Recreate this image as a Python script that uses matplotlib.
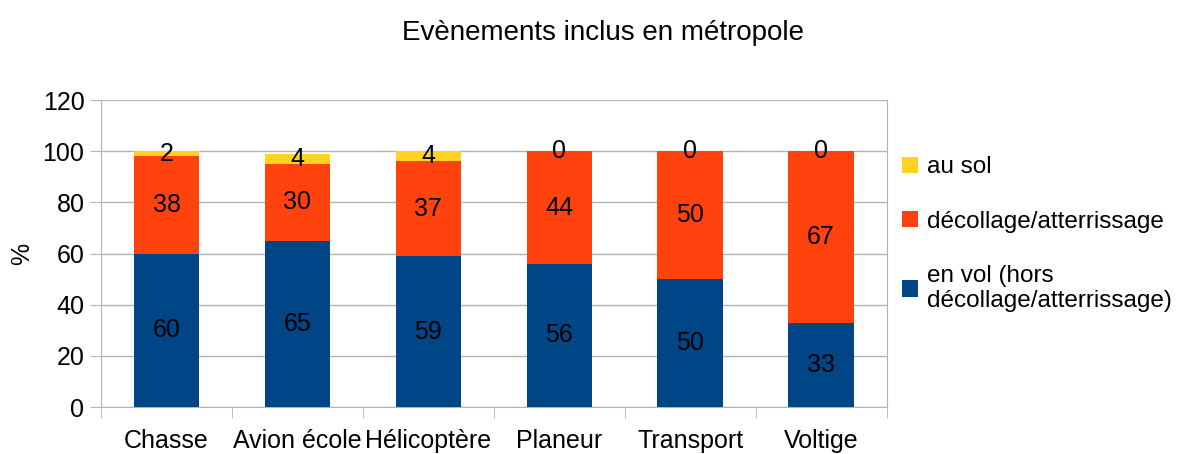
import numpy as np
import matplotlib
matplotlib.use('Agg')
import matplotlib.pyplot as plt

plt.rcParams['font.family'] = ['Liberation Sans', 'DejaVu Sans']

categories = ['Chasse', 'Avion école', 'Hélicoptère', 'Planeur', 'Transport', 'Voltige']
en_vol = [60, 65, 59, 56, 50, 33]
decollage = [38, 30, 37, 44, 50, 67]
au_sol = [2, 4, 4, 0, 0, 0]

labels = ['en vol (hors\ndécollage/atterrissage)', 'décollage/atterrissage', 'au sol']
colors = ['#004586', '#ff420e', '#ffd320']

fig = plt.figure(figsize=(11.9, 4.54), dpi=100)
ax = fig.add_axes([0.085, 0.1035, 0.66, 0.676])

x = np.arange(len(categories))
series = [en_vol, decollage, au_sol]
bottom = np.zeros(len(categories))
for vals, lab, col in zip(series, labels, colors):
    b = ax.bar(x, vals, 0.5, bottom=bottom, color=col, label=lab, zorder=3)
    ax.bar_label(b, labels=[str(v) for v in vals], label_type='center', fontsize=18, color='black', zorder=4)
    bottom += np.array(vals)

ax.set_xlim(-0.5, len(categories) - 0.5)
ax.set_ylim(0, 120)
ax.set_yticks(np.arange(0, 121, 20))
ax.set_xticks(x)
ax.set_xticklabels(categories)
ax.set_xticks(np.arange(-0.5, len(categories), 1), minor=True)
ax.tick_params(axis='x', which='major', length=0, pad=16, labelsize=18)
ax.tick_params(axis='x', which='minor', length=8, color='#b3b3b3')
ax.tick_params(axis='y', length=8, color='#b3b3b3', labelsize=18, pad=4)
ax.yaxis.grid(True, color='#b3b3b3', linewidth=1, zorder=0)
for s in ax.spines.values():
    s.set_color('#b3b3b3')
ax.spines['top'].set_visible(False)
ax.set_ylabel('%', fontsize=18, labelpad=6)

fig.suptitle('Evènements inclus en métropole', fontsize=20, x=0.507, y=0.955)

h, l = ax.get_legend_handles_labels()
fig.legend(h[::-1], l[::-1], loc='upper left', bbox_to_anchor=(0.74, 0.704),
           frameon=False, fontsize=17.5, handlelength=0.65, handleheight=0.65,
           handletextpad=0.35, labelspacing=1.33)

fig.savefig('out.png', dpi=100)
